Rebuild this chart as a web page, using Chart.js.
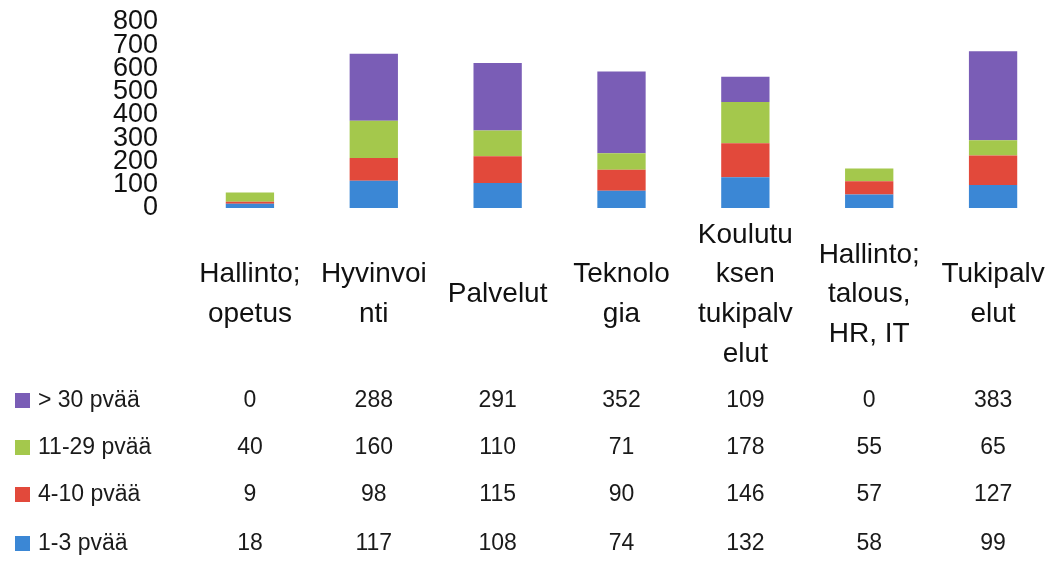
<!DOCTYPE html>
<html>
<head>
<meta charset="utf-8">
<script src="https://cdn.jsdelivr.net/npm/chart.js@4/dist/chart.umd.min.js"></script>
<style>
  html, body { margin: 0; padding: 0; background: #fff; }
  #wrap { width: 1055px; height: 565px; position: relative; }
</style>
</head>
<body>
<div id="wrap"><canvas id="chart" width="1055" height="565"></canvas></div>
<script>
// categories (multi-line like the original labels)
const categories = [
  ['Hallinto;', 'opetus'],
  ['Hyvinvoi', 'nti'],
  ['Palvelut'],
  ['Teknolo', 'gia'],
  ['Koulutu', 'ksen', 'tukipalv', 'elut'],
  ['Hallinto;', 'talous,', 'HR, IT'],
  ['Tukipalv', 'elut']
];

const days1to3   = [18, 117, 108, 74, 132, 58, 99];
const days4to10  = [9, 98, 115, 90, 146, 57, 127];
const days11to29 = [40, 160, 110, 71, 178, 55, 65];
const daysOver30 = [0, 288, 291, 352, 109, 0, 383];

const yTicks = [0, 100, 200, 300, 400, 500, 600, 700, 800];

const FONT = "'Liberation Sans', Arial, sans-serif";
const colors = {
  blue: '#3b87d5',
  red: '#e2493b',
  green: '#a4c84c',
  purple: '#7a5db6'
};

// stacking order bottom -> top
const series = [
  { label: '1-3 pvää', data: days1to3, color: colors.blue },
  { label: '4-10 pvää', data: days4to10, color: colors.red },
  { label: '11-29 pvää', data: days11to29, color: colors.green },
  { label: '> 30 pvää', data: daysOver30, color: colors.purple }
];

// data table under the axis, rows listed top -> bottom
const tablePlugin = {
  id: 'dataTable',
  afterDraw(chart) {
    const ctx = chart.ctx;
    const x = chart.scales.x;
    const rowsY = [401, 448, 495, 544];
    const rows = series.slice().reverse();
    ctx.save();
    ctx.font = '23px ' + FONT;
    ctx.textBaseline = 'middle';
    rows.forEach((s, r) => {
      const y = rowsY[r];
      ctx.fillStyle = s.color;
      ctx.fillRect(15, y - 8, 15, 15);
      ctx.fillStyle = '#1a1a1a';
      ctx.textAlign = 'left';
      ctx.fillText(s.label, 38, y);
      ctx.textAlign = 'center';
      s.data.forEach((v, i) => {
        ctx.fillText(String(v), x.getPixelForValue(i), y);
      });
    });
    ctx.restore();
  }
};

new Chart(document.getElementById('chart'), {
  type: 'bar',
  data: {
    labels: categories,
    datasets: series.map(s => ({
      label: s.label,
      data: s.data,
      backgroundColor: s.color,
      borderWidth: 0,
      categoryPercentage: 1,
      barPercentage: 0.39
    }))
  },
  options: {
    responsive: false,
    animation: false,
    devicePixelRatio: 1,
    layout: { padding: { top: 22, right: 0, bottom: 197, left: 0 } },
    plugins: {
      legend: { display: false },
      tooltip: { enabled: false }
    },
    scales: {
      x: {
        stacked: true,
        grid: { display: false, drawTicks: false },
        border: { display: false },
        afterFit: s => {
          s.height = 160;
          s.paddingLeft = 0;
          s.paddingRight = 0;
        },
        ticks: {
          color: '#111',
          font: { family: FONT, size: 28, lineHeight: 1.42 },
          maxRotation: 0,
          autoSkip: false,
          crossAlign: 'center',
          padding: 27
        }
      },
      y: {
        stacked: true,
        min: 0,
        max: 800,
        grid: { display: false, drawTicks: false },
        border: { display: false },
        afterFit: s => {
          s.width = 188;
          s.paddingTop = 0;
          s.paddingBottom = 0;
        },
        afterBuildTicks: s => { s.ticks = yTicks.map(v => ({ value: v })); },
        ticks: {
          color: '#111',
          font: { family: FONT, size: 27, lineHeight: 1 },
          autoSkip: false,
          padding: 30
        }
      }
    }
  },
  plugins: [tablePlugin]
});
</script>
</body>
</html>
